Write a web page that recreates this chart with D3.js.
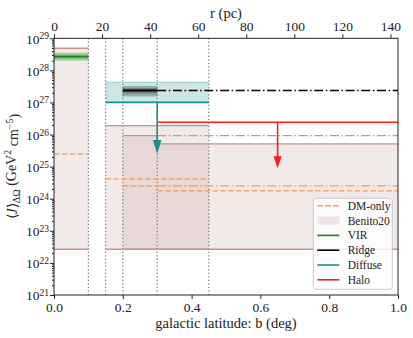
<!DOCTYPE html>
<html><head><meta charset="utf-8">
<script src="https://cdn.jsdelivr.net/npm/d3@7"></script>
<style>body{margin:0;background:#fff} svg{display:block} svg text{fill:#222}</style>
</head><body><svg id="c" width="413" height="338"></svg>
<script>
// ---------------- data ----------------
const dividers = [0.1, 0.15, 0.2, 0.3, 0.45];
const benitoStart = [0.0, 0.15, 0.2, 0.3];
const benitoEnd = [0.1, 0.45, 0.3, 1.0];
const benitoHigh = [4.9e28, 1.89e26, 9.25e25, 5.1e25];
const benitoLow = [2.67e22, 2.67e22, 2.67e22, 2.67e22];
const benitoExt = [0.3, 1.0, 9.25e25];           // dash-dot continuation
const dmStart = [0.0, 0.15, 0.2, 0.3];
const dmEnd = [0.1, 0.45, 0.3, 1.0];
const dmValues = [2.49e25, 4.14e24, 2.5e24, 1.75e24];
const dmExt = [0.3, 1.0, 2.5e24];                 // dash-dot continuation
const virRange = [0.0, 0.1];
const virValue = 2.67e28;
const virInner = [2.26e28, 3.16e28];
const virOuter = [2.0e28, 3.56e28];
const ridgeRange = [0.2, 0.3];
const ridgeValue = 2.37e27;
const ridgeInner = [1.9e27, 2.83e27];
const ridgeOuter = [1.54e27, 3.27e27];
const ridgeExt = [0.3, 1.0];
const diffuseRange = [0.15, 0.45];
const diffuseValue = 1.01e27;
const diffuseTop = 4.26e27;
const diffuseArrow = [0.3, 2.5e25];
const haloRange = [0.3, 1.0];
const haloValue = 2.42e26;
const haloArrow = [0.65, 8.9e24];
const xTicks = [0, 0.2, 0.4, 0.6, 0.8, 1.0];
const rTicks = [0, 20, 40, 60, 80, 100, 120, 140];
const yExps = [21, 22, 23, 24, 25, 26, 27, 28, 29];
const distancePc = 8200;
const legendLabels = ["DM-only", "Benito20", "VIR", "Ridge", "Diffuse", "Halo"];

// ---------------- setup ----------------
const FONT = '"Liberation Serif","Times New Roman",serif';
const svg = d3.select("#c");
const L = 54, R = 398, T = 38.3, B = 295;
const x = d3.scaleLinear().domain([0, 1]).range([L, R]);
const rMax = distancePc * Math.tan(1 * Math.PI / 180);
const xr = d3.scaleLinear().domain([0, rMax]).range([L, R]);
const y = d3.scaleLog().domain([1e21, 1e29]).range([B, T]);

const C = {
  dm: "#fe9a50", benLine: "#c49595", benFill: "#bc8f8f",
  vir: "#1a8a1a", ridge: "#000", teal: "#1a9090", halo: "#ff1a1a", grid: "#777"
};
const DASH = "5.5,2.4", DASHDOT = "9,2.6,1.5,2.6";

const g = svg.append("g");

g.selectAll(".bf").data(benitoStart).join("rect")
  .attr("x", (d, i) => x(d)).attr("width", (d, i) => x(benitoEnd[i]) - x(d))
  .attr("y", (d, i) => y(benitoHigh[i])).attr("height", (d, i) => y(benitoLow[i]) - y(benitoHigh[i]))
  .attr("fill", C.benFill).attr("fill-opacity", 0.2);

g.selectAll(".dv").data(dividers).join("line")
  .attr("x1", d => x(d)).attr("x2", d => x(d)).attr("y1", T).attr("y2", B)
  .attr("stroke", C.grid).attr("stroke-width", 1.2).attr("stroke-dasharray", "1.3,2.2");

function hline(x0, x1, v, color, w, dash) {
  const l = g.append("line").attr("x1", x(x0)).attr("x2", x(x1)).attr("y1", y(v)).attr("y2", y(v))
    .attr("stroke", color).attr("stroke-width", w);
  if (dash) l.attr("stroke-dasharray", dash);
  return l;
}
benitoStart.forEach((s, i) => {
  hline(s, benitoEnd[i], benitoHigh[i], C.benLine, 1.3);
  hline(s, benitoEnd[i], benitoLow[i], C.benLine, 1.3);
});
hline(benitoExt[0], benitoExt[1], benitoExt[2], C.benLine, 1.3, DASHDOT);

dmStart.forEach((s, i) => hline(s, dmEnd[i], dmValues[i], C.dm, 1.3, DASH));
hline(dmExt[0], dmExt[1], dmExt[2], C.dm, 1.3, DASHDOT);

g.append("rect").attr("x", x(diffuseRange[0])).attr("width", x(diffuseRange[1]) - x(diffuseRange[0]))
  .attr("y", y(diffuseTop)).attr("height", y(diffuseValue) - y(diffuseTop))
  .attr("fill", "#008080").attr("fill-opacity", 0.2);
hline(diffuseRange[0], diffuseRange[1], diffuseTop, C.teal, 1, null).attr("stroke-opacity", 0.35);

[ridgeOuter, ridgeInner].forEach(b => {
  g.append("rect").attr("x", x(ridgeRange[0])).attr("width", x(ridgeRange[1]) - x(ridgeRange[0]))
    .attr("y", y(b[1])).attr("height", y(b[0]) - y(b[1]))
    .attr("fill", "#000").attr("fill-opacity", 0.25);
});
[virOuter, virInner].forEach(b => {
  g.append("rect").attr("x", x(virRange[0])).attr("width", x(virRange[1]) - x(virRange[0]))
    .attr("y", y(b[1])).attr("height", y(b[0]) - y(b[1]))
    .attr("fill", "#008000").attr("fill-opacity", 0.25);
});

hline(virRange[0], virRange[1], virValue, C.vir, 1.8);
hline(ridgeRange[0], ridgeRange[1], ridgeValue, C.ridge, 2);
hline(ridgeExt[0], ridgeExt[1], ridgeValue, C.ridge, 1.5, DASHDOT);
hline(diffuseRange[0], diffuseRange[1], diffuseValue, C.teal, 1.6);
hline(haloRange[0], haloRange[1], haloValue, C.halo, 1.6);

function arrow(bx, from, to, color, headLen, headW) {
  const xp = x(bx), y0 = y(from), y1 = y(to);
  g.append("line").attr("x1", xp).attr("x2", xp).attr("y1", y0).attr("y2", y1 - headLen + 1)
    .attr("stroke", color).attr("stroke-width", 1.6);
  g.append("path").attr("d", `M${xp - headW / 2},${y1 - headLen}L${xp + headW / 2},${y1 - headLen}L${xp},${y1}Z`)
    .attr("fill", color);
}
arrow(diffuseArrow[0], diffuseValue, diffuseArrow[1], C.teal, 14, 8.5);
arrow(haloArrow[0], haloValue, haloArrow[1], C.halo, 12, 8);

// ---------------- axes ----------------
const ax = svg.append("g");
ax.append("rect").attr("x", L).attr("y", T).attr("width", R - L).attr("height", B - T)
  .attr("fill", "none").attr("stroke", "#222").attr("stroke-width", 1);

const bAx = ax.append("g").attr("transform", `translate(0,${B})`)
  .call(d3.axisBottom(x).tickValues(xTicks).tickFormat(d3.format(".1f")).tickSize(4).tickPadding(3));
const tAx = ax.append("g").attr("transform", `translate(0,${T})`)
  .call(d3.axisTop(xr).tickValues(rTicks).tickFormat(d3.format("d")).tickSize(4).tickPadding(3));
[bAx, tAx].forEach(a => {
  a.attr("font-family", FONT);
  a.select(".domain").remove();
  a.selectAll("line").attr("stroke", "#222");
  a.selectAll("text").attr("font-size", 13.5).attr("fill", "#222");
});
const minor = [];
yExps.slice(0, -1).forEach(e => { for (let k = 2; k <= 9; k++) minor.push(k * Math.pow(10, e)); });
const lm = ax.append("g").attr("transform", `translate(${L},0)`)
  .call(d3.axisLeft(y).tickValues(minor).tickFormat("").tickSize(2));
lm.select(".domain").remove(); lm.selectAll("line").attr("stroke", "#222");
const la = ax.append("g").attr("transform", `translate(${L},0)`)
  .call(d3.axisLeft(y).tickValues(yExps.map(e => Math.pow(10, e))).tickFormat("").tickSize(4));
la.attr("font-family", FONT);
la.select(".domain").remove(); la.selectAll("line").attr("stroke", "#222");
la.selectAll(".tick").each(function (d) {
  const e = Math.round(Math.log10(d));
  const t = d3.select(this).append("text").attr("x", -5).attr("dy", "0.35em")
    .attr("text-anchor", "end").attr("font-size", 13.5).attr("fill", "#222");
  t.append("tspan").text("10");
  t.append("tspan").attr("dy", "-0.45em").attr("font-size", 9.5).text(e);
});

// axis titles
svg.append("text").attr("x", (L + R) / 2).attr("y", 328).attr("text-anchor", "middle")
  .attr("font-size", 14.5).attr("font-family", FONT).text("galactic latitude: b (deg)");
svg.append("text").attr("x", (L + R) / 2).attr("y", 18).attr("text-anchor", "middle")
  .attr("font-size", 14.5).attr("font-family", FONT).text("r (pc)");
const yl = svg.append("text").attr("transform", `translate(17,${(T + B) / 2}) rotate(-90)`)
  .attr("text-anchor", "middle").attr("font-size", 14).attr("font-family", FONT);
yl.append("tspan").text("⟨");
yl.append("tspan").attr("font-style", "italic").text("J");
yl.append("tspan").text("⟩");
yl.append("tspan").attr("font-size", 10).attr("dy", "0.3em").text("ΔΩ");
yl.append("tspan").attr("dy", "-0.3em").text(" (GeV");
yl.append("tspan").attr("font-size", 10).attr("dy", "-0.45em").text("2");
yl.append("tspan").attr("dy", "0.45em").text(" cm");
yl.append("tspan").attr("font-size", 10).attr("dy", "-0.45em").text("−5");
yl.append("tspan").attr("dy", "0.45em").text(")");

// ---------------- legend ----------------
const lg = svg.append("g");
lg.append("rect").attr("x", 313.3).attr("y", 198.3).attr("width", 79).attr("height", 91)
  .attr("rx", 3).attr("fill", "#fff").attr("fill-opacity", 0.8).attr("stroke", "#ccc").attr("stroke-width", 1);
const rowY = d3.range(legendLabels.length).map(i => 205.8 + i * 14.8);
const hx0 = 317.3, hx1 = 339.3;
legendLabels.forEach((lab, i) => {
  const yy = rowY[i];
  if (lab === "Benito20") {
    lg.append("rect").attr("x", hx0).attr("y", yy - 4).attr("width", hx1 - hx0).attr("height", 8)
      .attr("fill", C.benFill).attr("fill-opacity", 0.2);
  } else {
    const col = {"DM-only": C.dm, "VIR": C.vir, "Ridge": C.ridge, "Diffuse": C.teal, "Halo": C.halo}[lab];
    const l = lg.append("line").attr("x1", hx0).attr("x2", hx1).attr("y1", yy).attr("y2", yy)
      .attr("stroke", col).attr("stroke-width", 1.6);
    if (lab === "DM-only") l.attr("stroke-dasharray", DASH);
  }
  lg.append("text").attr("x", 347.7).attr("y", yy).attr("dy", "0.35em").attr("font-size", 11.5)
    .attr("font-family", FONT).text(lab);
});
</script></body></html>
